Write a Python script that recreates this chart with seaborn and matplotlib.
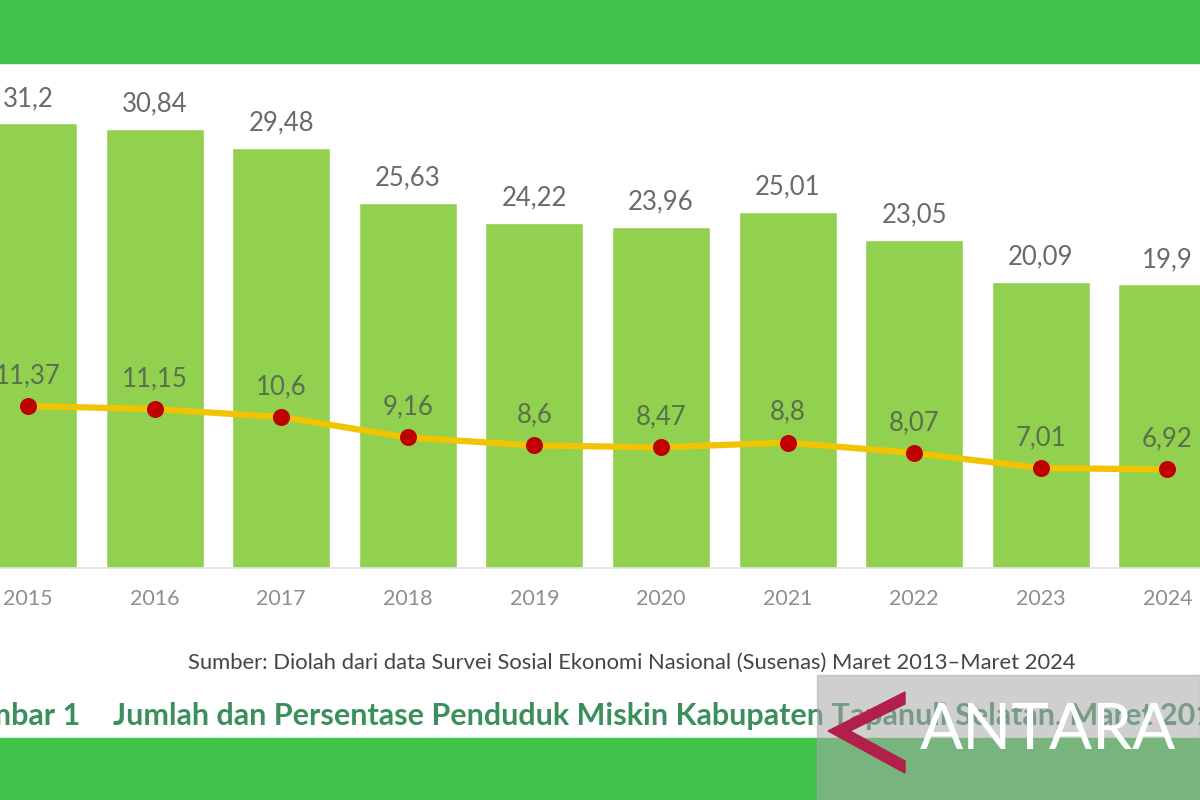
import numpy as np
import pandas as pd
import matplotlib
matplotlib.use("Agg")
import matplotlib.pyplot as plt
from matplotlib.patches import Rectangle, Polygon
import seaborn as sns

years = ["2015", "2016", "2017", "2018", "2019", "2020", "2021", "2022", "2023", "2024"]
jumlah = [31.2, 30.84, 29.48, 25.63, 24.22, 23.96, 25.01, 23.05, 20.09, 19.9]
persen = [11.37, 11.15, 10.6, 9.16, 8.6, 8.47, 8.8, 8.07, 7.01, 6.92]
source_text = "Sumber: Diolah dari data Survei Sosial Ekonomi Nasional (Susenas) Maret 2013\u2013Maret 2024"
fig_label = "Gambar 1"
title_text = "Jumlah dan Persentase Penduduk Miskin Kabupaten Tapanuli Selatan, Maret 2013\u2013Maret 2024"

sns.set_style("white")
plt.rcParams["font.family"] = ["Lato", "DejaVu Sans"]

W, H = 1200, 800
fig = plt.figure(figsize=(12, 8), dpi=100)
fig.patch.set_facecolor("white")

def fx(px):
    return px / W

def fy(py):
    return 1 - py / H

# green bands
band = "#40c44b"
fig.patches.append(Rectangle((0, fy(63)), 1, 63 / H, transform=fig.transFigure, color=band, zorder=0))
fig.patches.append(Rectangle((0, 0), 1, fy(738), transform=fig.transFigure, color=band, zorder=0))

# axes: index 0 at x=28px, step 126.6px; baseline y=568px
step = 126.6
x0 = 28
ax = fig.add_axes([0, fy(568), 1, (568 - 63) / H])
ax.set_facecolor("none")
df = pd.DataFrame({"tahun": years, "jumlah": jumlah, "persen": persen, "pos": np.arange(len(years))})

sns.barplot(data=df, x="tahun", y="jumlah", color="#92d050", saturation=1, width=0.775, ax=ax, zorder=2)
sns.lineplot(data=df, x="pos", y="persen", color="#f2c300", linewidth=4.5, ax=ax, zorder=3)
sns.scatterplot(data=df, x="pos", y="persen", color="#c00000", s=150, edgecolor="#c00000", linewidth=0, ax=ax, zorder=4)

ax.set_xlim(-x0 / step, (W - x0) / step)
ax.set_ylim(0, (568 - 63) / 14.25)

fmt = lambda v: (f"{v:g}").replace(".", ",")
for i, (j, p) in enumerate(zip(jumlah, persen)):
    ax.annotate(fmt(j), (i, j), xytext=(0, 18), textcoords="offset points",
                ha="center", va="center", fontsize=18.5, color="#6a6a6a", zorder=5)
    ax.annotate(fmt(p), (i, p), xytext=(0, 22), textcoords="offset points",
                ha="center", va="center", fontsize=18.5, color="#58704c", zorder=5)

ax.set_xlabel("")
ax.set_ylabel("")
ax.set_yticks([])
ax.tick_params(axis="x", length=0, pad=15, labelsize=15.5, labelcolor="#8e8e8e")
for s in ["top", "left", "right"]:
    ax.spines[s].set_visible(False)
ax.spines["bottom"].set_color("#e2e2e2")
ax.spines["bottom"].set_linewidth(1.2)

# source and title
fig.text(fx(632), fy(663), source_text, ha="center", va="center", fontsize=15.8, color="#454545")
fig.text(fx(80), fy(716), fig_label, ha="right", va="center", fontsize=22, color="#3a8f5c", fontweight="bold")
fig.text(fx(113), fy(716), title_text, ha="left", va="center", fontsize=22, color="#3a8f5c", fontweight="bold")

# watermark
fig.patches.append(Rectangle((fx(817), 0), 1 - fx(817), fy(675), transform=fig.transFigure,
                             color="#a8a8a8", alpha=0.55, zorder=6))
chev = Polygon([(fx(905), fy(692)), (fx(828), fy(731)), (fx(905), fy(773)), (fx(905), fy(761)),
                (fx(850), fy(731)), (fx(905), fy(704))], closed=True, transform=fig.transFigure,
               color="#b0204a", zorder=7)
fig.patches.append(chev)
fig.text(fx(1048), fy(731), "ANTARA", ha="center", va="center", fontsize=46, color="white",
         fontweight="normal", zorder=8, family=["Lato", "DejaVu Sans"])

fig.savefig("out.png", dpi=100)
